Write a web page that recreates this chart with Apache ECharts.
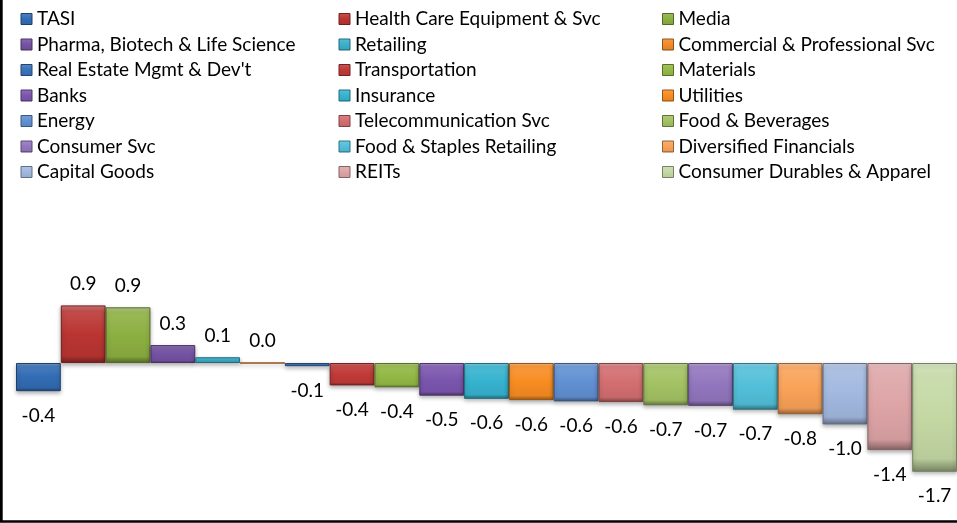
<!DOCTYPE html>
<html>
<head>
<meta charset="utf-8">
<style>
  html, body { margin: 0; padding: 0; background: #ffffff; }
  #chart { width: 957px; height: 523px; }
</style>
<script src="https://cdn.jsdelivr.net/npm/echarts@6/dist/echarts.min.js"></script>
</head>
<body>
<div id="chart"></div>
<script>
const categories = [
  'TASI', 'Health Care Equipment & Svc', 'Media',
  'Pharma, Biotech & Life Science', 'Retailing', 'Commercial & Professional Svc',
  "Real Estate Mgmt & Dev't", 'Transportation', 'Materials',
  'Banks', 'Insurance', 'Utilities',
  'Energy', 'Telecommunication Svc', 'Food & Beverages',
  'Consumer Svc', 'Food & Staples Retailing', 'Diversified Financials',
  'Capital Goods', 'REITs', 'Consumer Durables & Apparel'
];
const values = [
  -0.44, 0.90, 0.87,
  0.28, 0.09, 0.00,
  -0.05, -0.35, -0.38,
  -0.51, -0.56, -0.58,
  -0.60, -0.61, -0.66,
  -0.67, -0.73, -0.80,
  -0.96, -1.36, -1.70
];
const colors = [
  '#326CB4', '#BA3532', '#8CAF41',
  '#7452A3', '#3BAFCB', '#F38A29',
  '#3A73BA', '#C03A38', '#93B946',
  '#7B56AE', '#36B3CF', '#F88C22',
  '#6190D2', '#D36E70', '#A3C263',
  '#9276BE', '#52BFD9', '#F9A258',
  '#A2B8DF', '#DDA4A6', '#C4D8A4'
];

function shade(hex, amt) {
  const n = parseInt(hex.slice(1), 16);
  let r = (n >> 16) & 255, g = (n >> 8) & 255, b = n & 255;
  const f = c => amt >= 0 ? Math.round(c + (255 - c) * amt) : Math.round(c * (1 + amt));
  r = f(r); g = f(g); b = f(b);
  return 'rgb(' + r + ',' + g + ',' + b + ')';
}
function fmt(v) {
  const r = Math.round(Math.abs(v) * 10 + 1e-9) / 10;
  return (v < 0 && r > 0 ? '-' : '') + r.toFixed(1);
}
function bevel(base) {
  return {
    type: 'linear', x: 0, y: 0, x2: 0, y2: 1,
    colorStops: [
      { offset: 0, color: shade(base, 0.35) },
      { offset: 0.1, color: shade(base, 0.12) },
      { offset: 0.5, color: base },
      { offset: 0.88, color: shade(base, -0.06) },
      { offset: 1, color: shade(base, -0.4) }
    ]
  };
}

const FONT = 'Lato';
const series = categories.map((name, i) => {
  const base = colors[i];
  return {
    name: name,
    type: 'bar',
    stack: 'all',
    barCategoryGap: '0%',
    data: categories.map((_, j) => j === i ? values[i] : '-'),
    itemStyle: {
      color: bevel(base),
      borderColor: shade(base, -0.4),
      borderWidth: 1,
      shadowColor: 'rgba(0,0,0,0.3)',
      shadowBlur: 4,
      shadowOffsetY: 2
    },
    label: {
      show: true,
      position: values[i] >= 0 ? 'top' : 'bottom',
      distance: values[i] >= 0 ? 12 : 15,
      formatter: p => fmt(p.value),
      fontFamily: FONT,
      fontSize: 19,
      color: '#000'
    },
    emphasis: { disabled: true }
  };
});

function legendCol(startIdx, left) {
  const data = [];
  for (let k = startIdx; k < categories.length; k += 3) {
    data.push({ name: categories[k], itemStyle: { color: bevel(colors[k]), borderColor: shade(colors[k], -0.4), borderWidth: 1 } });
  }
  return {
    orient: 'vertical',
    left: left,
    top: 9.5,
    itemWidth: 11,
    itemHeight: 11,
    itemGap: 6.5,
    icon: 'rect',
    selectedMode: false,
    data: data,
    textStyle: { fontFamily: FONT, fontSize: 19, lineHeight: 19, color: '#000', padding: [0, 0, 0, 0] },
    padding: 0
  };
}

const chart = echarts.init(document.getElementById('chart'), null, { renderer: 'canvas' });
chart.setOption({
  animation: false,
  backgroundColor: '#ffffff',
  legend: [legendCol(0, 20.5), legendCol(1, 338.5), legendCol(2, 662)],
  grid: { left: 16, top: 267, width: 945, height: 224, containLabel: false },
  xAxis: {
    type: 'category',
    data: categories,
    show: false
  },
  yAxis: {
    type: 'value',
    min: -2,
    max: 1.5,
    show: false
  },
  graphic: [{
    type: 'rect',
    z: 100,
    silent: true,
    shape: { x: 1.35, y: -20, width: 1000, height: 541.5 },
    style: { fill: 'none', stroke: '#000', lineWidth: 2.7 }
  }],
  series: series
});
</script>
</body>
</html>
